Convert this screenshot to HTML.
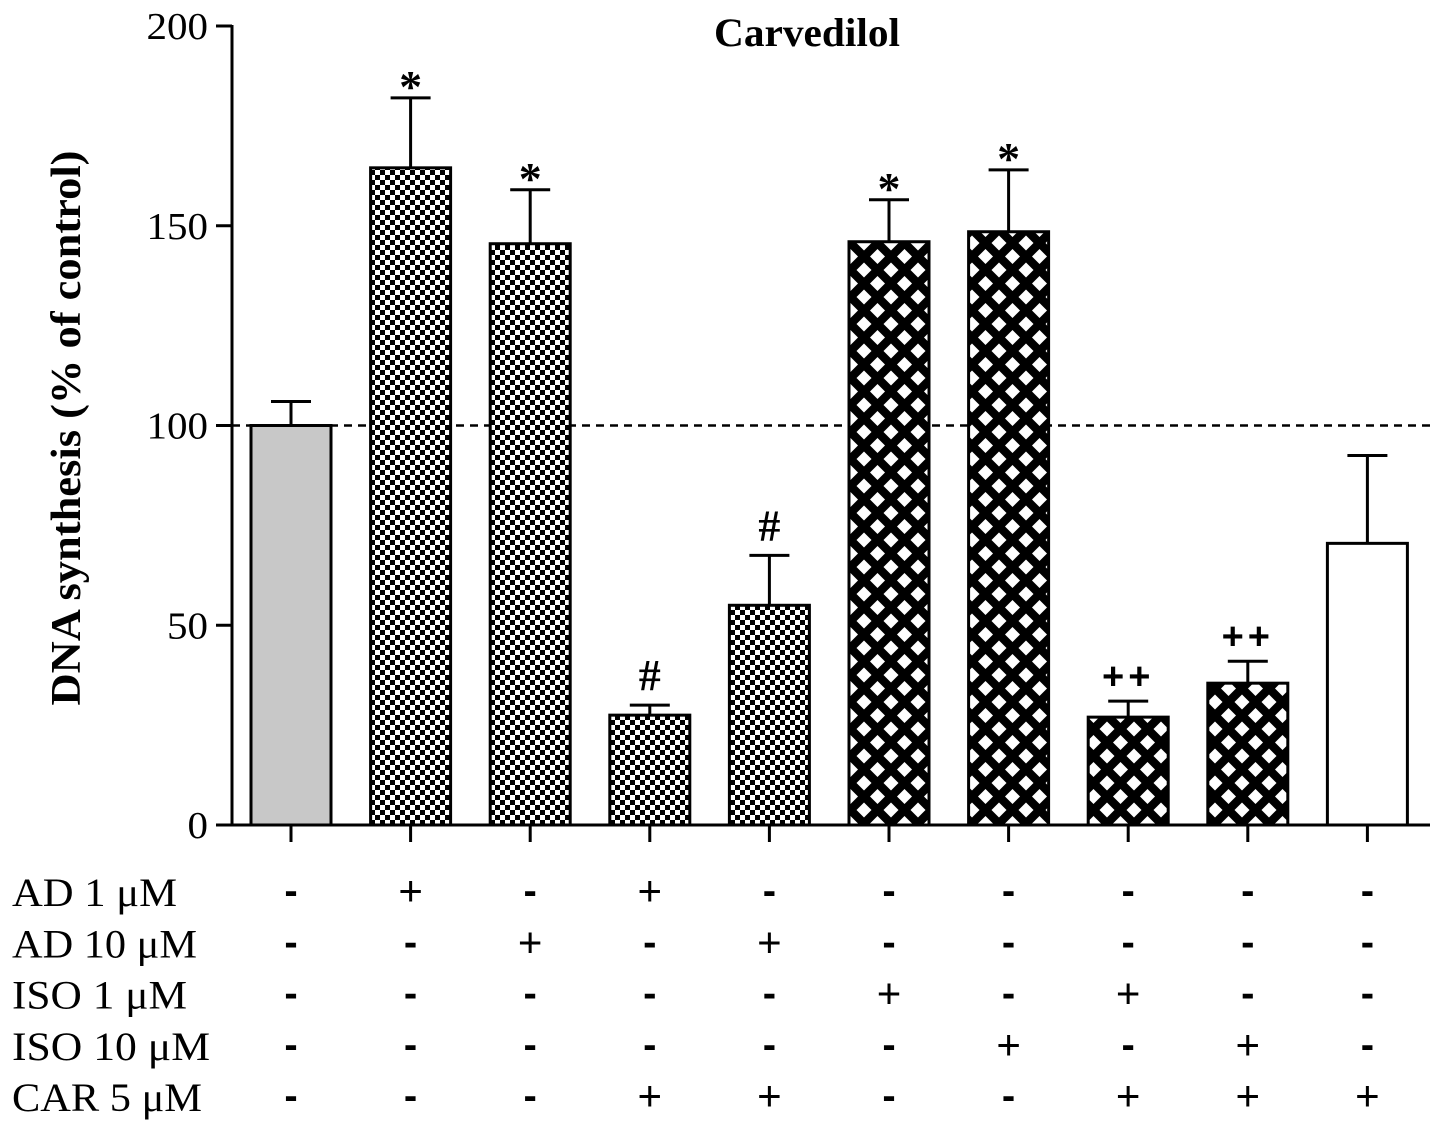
<!DOCTYPE html>
<html><head><meta charset="utf-8"><style>
body{margin:0;background:#fff;}
svg text{font-family:"Liberation Serif",serif;}
</style></head><body>
<svg id="chart" width="1441" height="1135" viewBox="0 0 1441 1135" xmlns="http://www.w3.org/2000/svg">
<defs>
<pattern id="check" patternUnits="userSpaceOnUse" width="10" height="10">
<rect width="10" height="10" fill="#fff"/><rect width="5" height="5" fill="#000"/><rect x="5" y="5" width="5" height="5" fill="#000"/>
</pattern>
<pattern id="diamond" patternUnits="userSpaceOnUse" width="27" height="27">
<rect width="27" height="27" fill="#000"/>
<polygon points="13.5,6 21,13.5 13.5,21 6,13.5" fill="#fff"/>
<polygon points="0,-7.5 7.5,0 0,7.5 -7.5,0" fill="#fff"/>
<polygon points="27,-7.5 34.5,0 27,7.5 19.5,0" fill="#fff"/>
<polygon points="0,19.5 7.5,27 0,34.5 -7.5,27" fill="#fff"/>
<polygon points="27,19.5 34.5,27 27,34.5 19.5,27" fill="#fff"/>
</pattern>
</defs>
<g id="plot"></g>
</svg>
<script>
const values=[100,164.5,145.5,27.5,55,146,148.5,27,35.5,70.5];
const errors=[6,17.5,13.5,2.5,12.5,10.5,15.5,4,5.5,22];
const fills=['#c8c8c8','url(#check)','url(#check)','url(#check)','url(#check)','url(#diamond)','url(#diamond)','url(#diamond)','url(#diamond)','#fff'];
const marks=['','*','*','#','#','*','*','++','++',''];
const yTicks=[0,50,100,150,200];
const rowLabels=['AD 1 μM','AD 10 μM','ISO 1 μM','ISO 10 μM','CAR 5 μM'];
const rowLabelW=[165,185,175,198,190];
const rowSigns=[
 ['-','+','-','+','-','-','-','-','-','-'],
 ['-','-','+','-','+','-','-','-','-','-'],
 ['-','-','-','-','-','+','-','+','-','-'],
 ['-','-','-','-','-','-','+','-','+','-'],
 ['-','-','-','+','+','-','-','+','+','+']];
const NS='http://www.w3.org/2000/svg';
const g=document.getElementById('plot');
const y=v=>825-v*3.995;
const x=i=>291+i*119.6;
const bw=80;
function mk(t,a,p){const e=document.createElementNS(NS,t);for(const k in a)e.setAttribute(k,a[k]);(p||g).appendChild(e);return e;}
let ax=mk('line',{x1:232,y1:826,x2:232,y2:25,stroke:'#000','stroke-width':3});


let xa=mk('line',{x1:231,y1:825,x2:1430,y2:825,stroke:'#000','stroke-width':3});


yTicks.forEach(v=>{
 const tk=mk('line',{x1:216,y1:y(v),x2:232,y2:y(v),stroke:'#000','stroke-width':3});
 
 
 const t=mk('text',{x:208,y:y(v)+13,'text-anchor':'end','font-size':38,textLength:String(v).length*20.5,lengthAdjust:'spacingAndGlyphs'});
 t.textContent=v;
 
 
});
let ref=mk('line',{x1:232,y1:y(100),x2:1432,y2:y(100),stroke:'#000','stroke-width':2.5,'stroke-dasharray':'8,6'});


values.forEach((v,i)=>{
 const cx=x(i);
 const top=y(v+errors[i]);
 const el=mk('line',{x1:cx,y1:y(v),x2:cx,y2:top,stroke:'#000','stroke-width':3});
 
 
 const cap=mk('line',{x1:cx-20,y1:top,x2:cx+20,y2:top,stroke:'#000','stroke-width':3});
 
 
 const b=mk('rect',{x:cx-bw/2,y:y(v),width:bw,height:825-y(v),fill:fills[i],stroke:'#000','stroke-width':3});
 
 
 const tk=mk('line',{x1:cx,y1:825,x2:cx,y2:842,stroke:'#000','stroke-width':3});
 
 
 if(marks[i]){
  let m;
  if(marks[i]=='*') m=mk('text',{x:cx,y:top+4,'text-anchor':'middle','font-size':46,'font-weight':'bold'});
  else if(marks[i]=='#') m=mk('text',{x:cx,y:top-15,'text-anchor':'middle','font-size':44,'font-weight':'bold'});
  else m=mk('text',{x:cx,y:top-12,'text-anchor':'middle','font-size':38,'font-weight':'bold','letter-spacing':4,style:'font-family:"Liberation Sans",sans-serif'});
  m.textContent=marks[i];
  
  
 }
});
rowLabels.forEach((l,r)=>{
 const by=906+r*51.3;
 const t=mk('text',{x:12,y:by,'font-size':40,textLength:rowLabelW[r],lengthAdjust:'spacingAndGlyphs'});
 t.textContent=l;
 
 
 rowSigns[r].forEach((s,i)=>{
  const isPlus=s=='+';
  const st=mk('text',{x:x(i),y:by-(isPlus?1:2),'text-anchor':'middle','font-size':isPlus?42:40,'font-weight':isPlus?'normal':'bold',style:'font-family:"Liberation Sans",sans-serif'});
  st.textContent=s;
  
  
 });
});
let title=mk('text',{x:807,y:46,'text-anchor':'middle','font-size':40,'font-weight':'bold',textLength:186,lengthAdjust:'spacingAndGlyphs'});
title.textContent='Carvedilol';


let yt=mk('text',{x:0,y:0,'text-anchor':'middle','font-size':42,'font-weight':'bold',textLength:555,lengthAdjust:'spacingAndGlyphs',transform:'translate(80,428) rotate(-90)'});
yt.textContent='DNA synthesis (% of control)';


</script>
</body></html>
